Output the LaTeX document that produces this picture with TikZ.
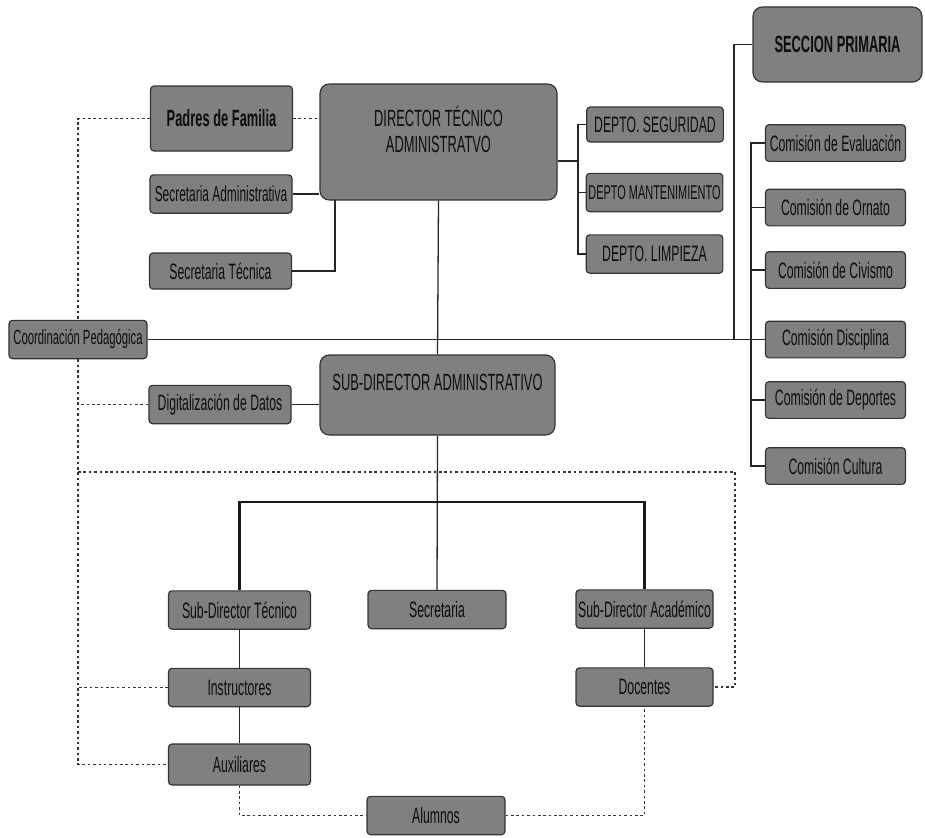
\documentclass[tikz,border=0pt]{standalone}
\usepackage{fontspec}
\setmainfont[FakeStretch=0.55]{Liberation Sans}
\usepackage{tikz}
\usetikzlibrary{positioning}
\tikzstyle{box} = [draw=black!80, fill=black!50, line width=1pt, rounded corners=3pt, text=black!95,
                   minimum width=4.26cm, minimum height=1.15cm, inner xsep=1pt, inner ysep=1pt,
                   font=\fontsize{19}{21}\selectfont]
\tikzstyle{bigbox} = [box, rounded corners=8pt, align=center, font=\fontsize{20}{22}\selectfont]
\tikzstyle{line} = [line width=1.1pt, black!85]
\tikzstyle{thickline} = [line width=2.4pt, black!90]
\tikzstyle{dotline} = [line width=1pt, black!80, dash pattern=on 2.2pt off 2.4pt]

\begin{document}
\begin{tikzpicture}[x=0.03cm, y=-0.03cm]
    \useasboundingbox (0,0) rectangle (925,837);
    % left column and directors
    \node[box, minimum height=1.95cm, font=\bfseries\fontsize{20}{22}\selectfont] (padres) at (221.5,118.5) {Padres de Familia};
    \node[bigbox, minimum width=7.11cm, minimum height=3.48cm] (dir) at (438.5,142) {DIRECTOR TÉCNICO\\ADMINISTRATVO\\ \mbox{}};
    \node[box, inner xsep=0pt, font=\fontsize{18.5}{21}\selectfont] (secadm) at (221,194) {Secretaria Administrativa};
    \node[box, minimum height=1.08cm] (sectec) at (220.5,271) {Secretaria Técnica};
    \node[box, minimum width=4.14cm, inner xsep=0pt, font=\fontsize{17.5}{20}\selectfont] (coord) at (78,339.5) {Coordinación Pedagógica};
    \node[box] (digit) at (220,404.5) {Digitalización de Datos};
    \node[bigbox, minimum width=7.05cm, minimum height=2.4cm] (subdir) at (437.5,395) {SUB-DIRECTOR ADMINISTRATIVO\\ \mbox{}};
    % lower levels
    \node[box] (sdtec) at (239.5,610) {Sub-Director Técnico};
    \node[box, minimum width=4.14cm] (secre) at (437,609.5) {Secretaria};
    \node[box, minimum width=4.11cm] (sdacad) at (644.5,609) {Sub-Director Académico};
    \node[box] (instr) at (239.5,687.5) {Instructores};
    \node[box, minimum height=1.23cm] (aux) at (239.5,764.5) {Auxiliares};
    \node[box, minimum width=4.11cm] (docen) at (644.5,687) {Docentes};
    \node[box, minimum width=4.14cm] (alum) at (436,815.5) {Alumnos};
    % right side
    \node[bigbox, minimum width=5.07cm, minimum height=2.25cm, font=\bfseries\fontsize{20}{22}\selectfont] (secc) at (837.5,44.5) {SECCION PRIMARIA};
    \node[box, minimum width=4.1cm, minimum height=1.05cm] (seg) at (655,124.5) {DEPTO. SEGURIDAD};
    \node[box, minimum width=4.1cm, inner xsep=0pt, font=\fontsize{17}{20}\selectfont] (mant) at (654.5,192.5) {DEPTO MANTENIMIENTO};
    \node[box, minimum width=4.1cm] (limp) at (654.5,254) {DEPTO. LIMPIEZA};
    \foreach \n/\y/\t in {c1/143/Comisión de Evaluación, c2/207.5/Comisión de Ornato, c3/270/Comisión de Civismo,
                          c4/339.5/Comisión Disciplina, c5/400/Comisión de Deportes, c6/466/Comisión Cultura}
      \node[box, minimum width=4.2cm, minimum height=1.1cm, inner xsep=0pt] (\n) at (835.5,\y) {\t};

    \coordinate (dj) at (578,161);
    \coordinate (sj) at (734,339.5);
    \coordinate (tj) at (335,200);
    \coordinate (bar) at (437,502);
    \coordinate (dl) at (735,472);

    \draw[line] (secadm.east) -- (secadm.east -| dir.west);
    \draw[line] (sectec.east) -| (tj);
    \draw[line] (dir.south) -- (subdir.north);
    \draw[line] (dir.east |- dj) -- (dj);
    \foreach \d in {seg, mant, limp}
      \draw[line] (\d.west) -| (dj);
    \draw[line] (secc.west) -| (sj);
    \draw[line] (coord.east) -- (coord.east -| c4.west);
    \draw[line] (c1.west) -- ++(-14,0) |- (c6.west);
    \foreach \c in {c2, c3, c5}
      \draw[line] (\c.west) -- ++(-14,0);
    \draw[line] (digit.east) -- (digit.east -| subdir.west);
    \draw[line] (subdir.south) -- (secre.north);
    \draw[thickline] (sdtec.north) |- (bar) -| (sdacad.north);
    \draw[line] (sdtec) -- (instr);
    \draw[line] (instr) -- (aux);
    \draw[line] (sdacad) -- (docen);

    \draw[dotline] (padres.east) -- (padres.east -| dir.west);
    \draw[dotline] (padres.west) -| (coord.north);
    \draw[dotline] (coord.south) |- (aux.west);
    \draw[dotline] (digit.west) -- (digit.west -| coord.south);
    \draw[dotline] (instr.west) -- (instr.west -| coord.south);
    \draw[dotline] (coord.south |- dl) -- (dl) |- (docen.east);
    \draw[dotline] (aux.south) |- (alum.west);
    \draw[dotline] (alum.east) -| (docen.south);
\end{tikzpicture}
\end{document}
